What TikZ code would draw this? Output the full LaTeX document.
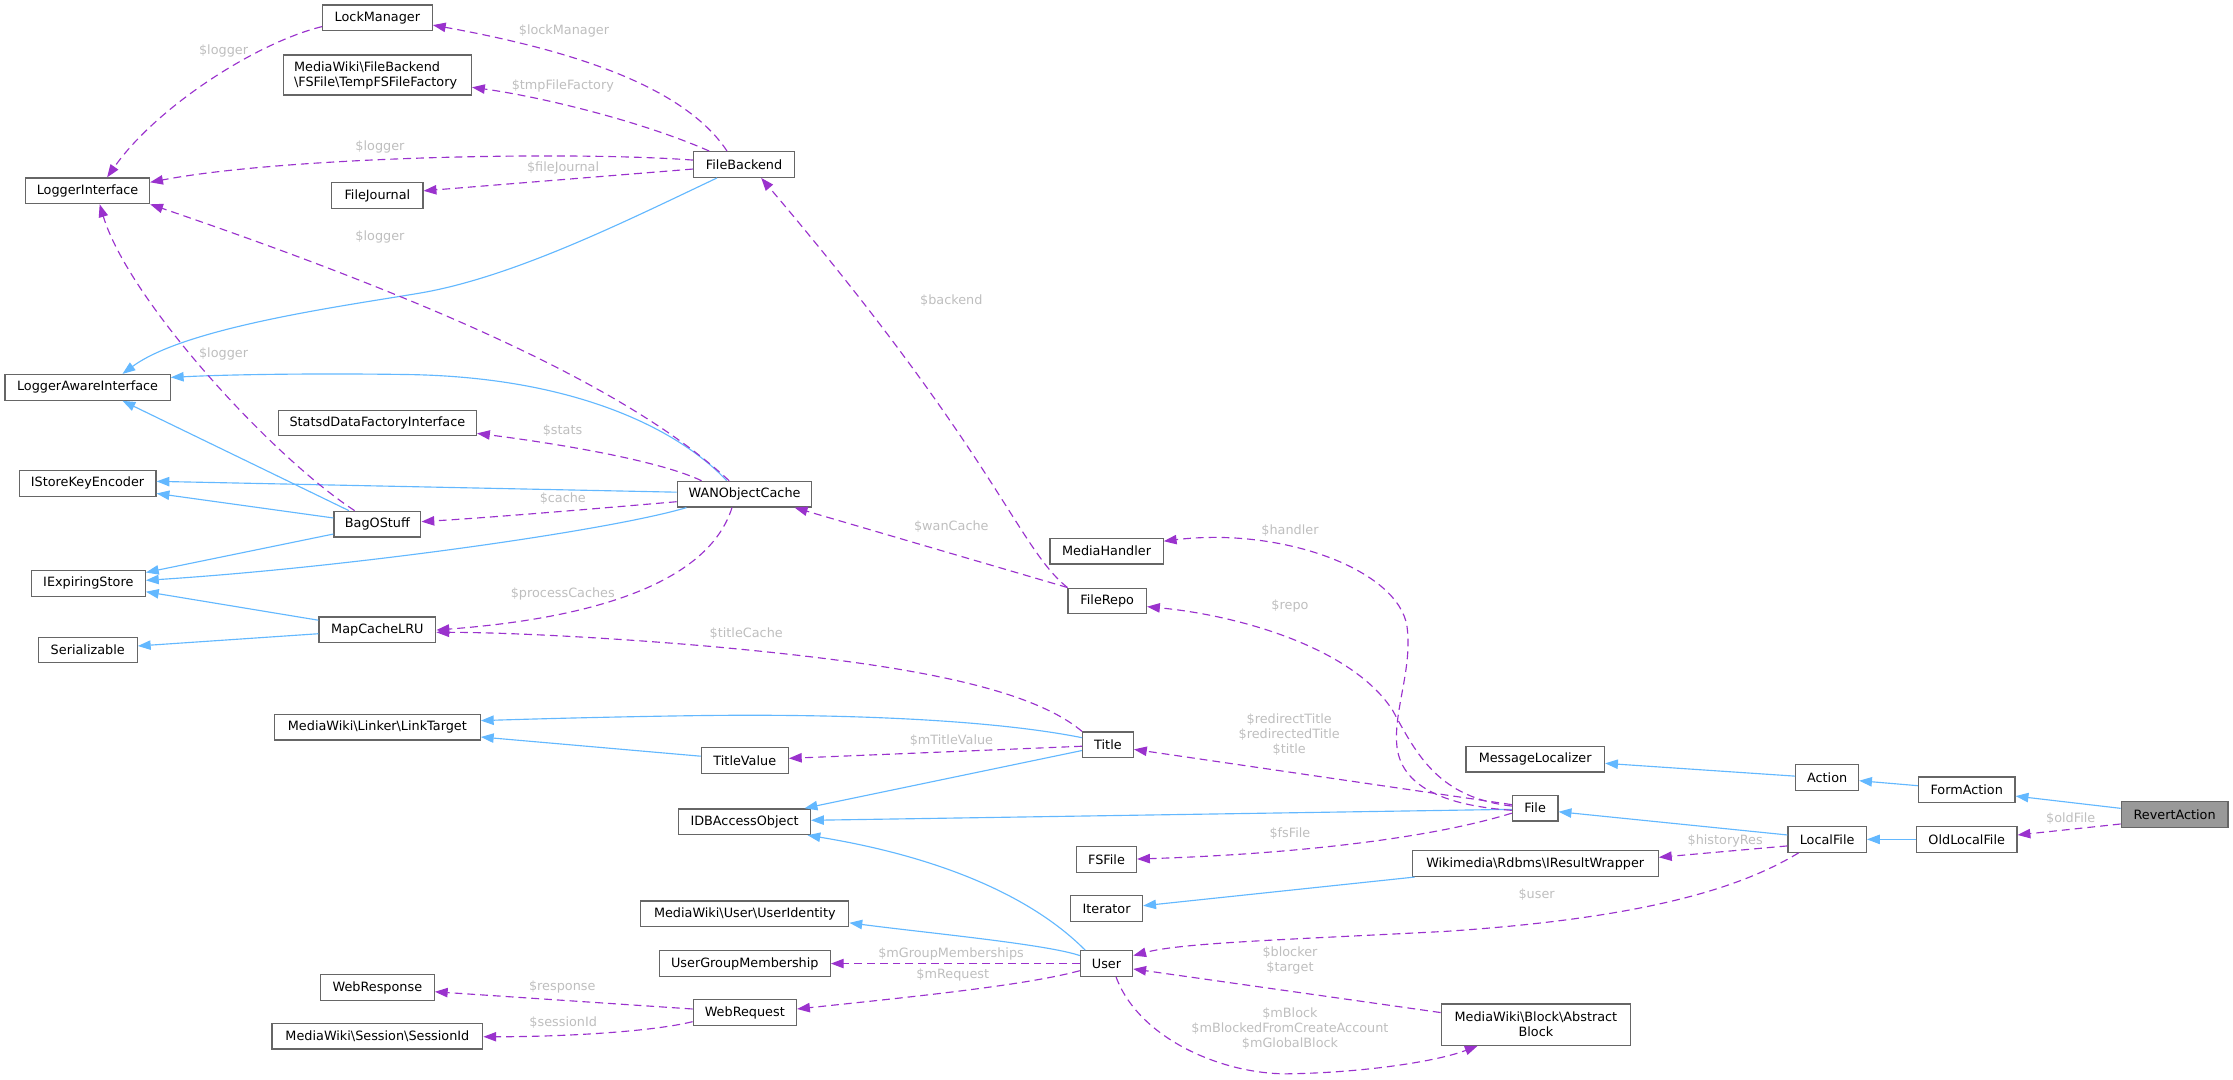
\documentclass[tikz,border=0pt]{standalone}
\usepackage{fontspec}
\setmainfont{DejaVu Sans}
\usetikzlibrary{arrows.meta}
\definecolor{inhc}{HTML}{63B8FF}
\definecolor{usec}{HTML}{9A32CD}
\definecolor{boxc}{HTML}{666666}
\definecolor{labc}{HTML}{BEBEBE}
\definecolor{revc}{HTML}{999999}
\newcommand\dgfont{\fontsize{9}{10.5}\selectfont}
\tikzset{
  box/.style={draw=boxc, line width=0.9pt, fill=white, minimum height=18pt, inner sep=0pt, font=\dgfont, text=black},
  lbl/.style={text=labc, font=\dgfont, inner sep=0pt, align=center},
  inh/.style={draw=inhc, line width=0.8pt, -{Triangle[length=9pt,width=6.6pt]}},
  usedep/.style={draw=usec, line width=0.8pt, dash pattern=on 5.5pt off 3.5pt, -{Triangle[length=9pt,width=6.6pt]}}
}
\begin{document}
\begin{tikzpicture}[x=1pt,y=-1pt]
\useasboundingbox (0,0) rectangle (1568,758);
% nodes
\node[box, minimum width=77pt] (lockm) at (265,12.5) {LockManager};
\node[box, minimum width=132pt, minimum height=28pt, text width=117pt, align=left, inner xsep=7.5pt] (tempfs) at (265,52.7) {MediaWiki\textbackslash FileBackend\\\textbackslash FSFile\textbackslash TempFSFileFactory};
\node[box, minimum width=71pt] (fback) at (522.5,115.5) {FileBackend};
\node[box, minimum width=87pt] (logint) at (61.5,134) {LoggerInterface};
\node[box, minimum width=64pt] (fjour) at (265,137.3) {FileJournal};
\node[box, minimum width=116pt] (lawi) at (61.5,272) {LoggerAwareInterface};
\node[box, minimum width=139pt] (statsd) at (265,297) {StatsdDataFactoryInterface};
\node[box, minimum width=96pt] (iske) at (61.5,339.4) {IStoreKeyEncoder};
\node[box, minimum width=94.5pt] (wan) at (522.8,347) {WANObjectCache};
\node[box, minimum width=61pt] (bag) at (265,368) {BagOStuff};
\node[box, minimum width=80pt] (ies) at (62,409.6) {IExpiringStore};
\node[box, minimum width=82pt] (mapc) at (265,442.3) {MapCacheLRU};
\node[box, minimum width=69.5pt] (ser) at (61.6,456.4) {Serializable};
\node[box, minimum width=79.5pt] (mediah) at (777,387) {MediaHandler};
\node[box, minimum width=55pt] (frepo) at (777.5,422) {FileRepo};
\node[box, minimum width=144.4pt] (linkt) at (265,510.6) {MediaWiki\textbackslash Linker\textbackslash LinkTarget};
\node[box, minimum width=35.6pt] (title) at (778,523) {Title};
\node[box, minimum width=61pt] (tval) at (523,534) {TitleValue};
\node[box, minimum width=92.5pt] (idba) at (522.8,577) {IDBAccessObject};
\node[box, minimum width=97.3pt] (msgl) at (1078,533) {MessageLocalizer};
\node[box, minimum width=44pt] (action) at (1283,546) {Action};
\node[box, minimum width=67.8pt] (formact) at (1381,554.6) {FormAction};
\node[box, minimum width=75pt, fill=revc] (revert) at (1527,572) {RevertAction};
\node[box, minimum width=32pt] (file) at (1078,567.5) {File};
\node[box, minimum width=55pt] (localf) at (1283,589.4) {LocalFile};
\node[box, minimum width=70.5pt] (oldlf) at (1381,589.4) {OldLocalFile};
\node[box, minimum width=42pt] (fsfile) at (777,603.5) {FSFile};
\node[box, minimum width=172.8pt] (iresw) at (1078,606.4) {Wikimedia\textbackslash Rdbms\textbackslash IResultWrapper};
\node[box, minimum width=50.6pt] (iter) at (777,638) {Iterator};
\node[box, minimum width=146pt] (uident) at (523,641.7) {MediaWiki\textbackslash User\textbackslash UserIdentity};
\node[box, minimum width=120pt] (ugm) at (523,676.6) {UserGroupMembership};
\node[box, minimum width=36.6pt] (user) at (777,676.6) {User};
\node[box, minimum width=79.8pt] (wresp) at (265,693.4) {WebResponse};
\node[box, minimum width=72.5pt] (wreq) at (523,711) {WebRequest};
\node[box, minimum width=148pt] (sessid) at (265,727.5) {MediaWiki\textbackslash Session\textbackslash SessionId};
\node[box, minimum width=133pt, minimum height=29pt, align=center] (ablock) at (1078.5,719.4) {MediaWiki\textbackslash Block\textbackslash Abstract\\Block};
% labels
\node[lbl] (l1) at (396,21.5) {\$lockManager};
\node[lbl] (l2) at (395.2,60.4) {\$tmpFileFactory};
\node[lbl] (l3) at (266.8,103) {\$logger};
\node[lbl] (l4) at (395.4,118) {\$fileJournal};
\node[lbl] (l5) at (157,35.8) {\$logger};
\node[lbl] (l6) at (266.8,166.2) {\$logger};
\node[lbl] (l7) at (157,248.6) {\$logger};
\node[lbl] (l8) at (668,211) {\$backend};
\node[lbl] (l9) at (395,302) {\$stats};
\node[lbl] (l10) at (395.2,350.4) {\$cache};
\node[lbl] (l11) at (395.2,417.3) {\$processCaches};
\node[lbl] (l12) at (524,444.6) {\$titleCache};
\node[lbl] (l13) at (668,369.8) {\$wanCache};
\node[lbl] (l14) at (905.8,372.7) {\$handler};
\node[lbl] (l15) at (905.8,425.5) {\$repo};
\node[lbl] (l16) at (668.1,520.1) {\$mTitleValue};
\node[lbl] (l17) at (905.3,516) {\$redirectTitle\\\$redirectedTitle\\\$title};
\node[lbl] (l18) at (905.8,585.2) {\$fsFile};
\node[lbl] (l19) at (1211.4,590.3) {\$historyRes};
\node[lbl] (l20) at (1079,628.5) {\$user};
\node[lbl] (l21) at (1454,574.6) {\$oldFile};
\node[lbl] (l22) at (667.8,670.2) {\$mGroupMemberships};
\node[lbl] (l23) at (669,684.6) {\$mRequest};
\node[lbl] (l24) at (394.8,692.8) {\$response};
\node[lbl] (l25) at (395.5,718.1) {\$sessionId};
\node[lbl] (l26) at (905.8,674.7) {\$blocker\\\$target};
\node[lbl] (l27) at (905.8,722) {\$mBlock\\\$mBlockedFromCreateAccount\\\$mGlobalBlock};
% inheritance edges
\draw[inh] (fback.south -| 503.5,0) .. controls (440,155) and (360,195) .. (293.7,206) .. controls (240,215) and (130,230) .. (lawi.north -| 86,0);
\draw[inh] (wan.north -| 510.3,0) .. controls (480,305) and (410,265) .. (286.6,263) .. controls (220,262) and (160,263) .. (lawi.east |- 0,265);
\draw[inh] (bag.north -| 245,0) -- (lawi.south -| 86,0);
\draw[inh] (wan.west |- 0,345.6) -- (iske.east |- 0,338);
\draw[inh] (bag.west |- 0,363.7) -- (iske.east |- 0,346.5);
\draw[inh] (bag.west |- 0,375) -- (ies.east |- 0,402);
\draw[inh] (wan.south -| 482,0) .. controls (430,372) and (250,398) .. (ies.east |- 0,407.5);
\draw[inh] (mapc.west |- 0,435.5) -- (ies.east |- 0,415.5);
\draw[inh] (mapc.west |- 0,445) -- (ser.east |- 0,453.6);
\draw[inh] (title.west |- 0,518) .. controls (700,506) and (600,501) .. (489,502.5) .. controls (420,503.5) and (370,505) .. (linkt.east |- 0,506);
\draw[inh] (tval.west |- 0,531) -- (linkt.east |- 0,517.5);
\draw[inh] (title.west |- 0,527) -- (idba.north -| 565,0);
\draw[inh] (file.west |- 0,568.3) -- (idba.east |- 0,576);
\draw[inh] (user.north -| 762,0) .. controls (720,625) and (650,600) .. (idba.south -| 567,0);
\draw[inh] (user.west |- 0,671) .. controls (735,663) and (650,655) .. (uident.east |- 0,648);
\draw[inh] (iresw.south -| 993.4,0) -- (iter.east |- 0,636);
\draw[inh] (localf.west |- 0,586.3) -- (file.east |- 0,570);
\draw[inh] (action.west |- 0,545) -- (msgl.east |- 0,536);
\draw[inh] (formact.west |- 0,551.7) -- (action.east |- 0,548.2);
\draw[inh] (revert.west |- 0,567.6) -- (formact.east |- 0,559);
\draw[inh] (oldlf.west) -- (localf.east);
% usage edges
\draw[usedep] (fback.north -| 510.5,0) .. controls (480,60) and (400,35) .. (lockm.east |- 0,17.6);
\draw[usedep] (fback.north -| 498,0) .. controls (450,85) and (380,68) .. (tempfs.east |- 0,61.3);
\draw[usedep] (fback.west |- 0,112.4) .. controls (400,106) and (200,110) .. (logint.east |- 0,128);
\draw[usedep] (fback.west |- 0,118.7) -- (fjour.east |- 0,134);
\draw[usedep] (lockm.west |- 0,18.7) .. controls (180,30) and (110,75) .. (logint.north -| 75.2,0);
\draw[usedep] (wan.north -| 512,0) .. controls (450,280) and (330,220) .. (logint.south east);
\draw[usedep] (bag.north -| 249,0) .. controls (190,320) and (90,210) .. (logint.south -| 70,0);
\draw[usedep] (wan.north -| 492.6,0) .. controls (460,322) and (380,310) .. (statsd.east |- 0,304.3);
\draw[usedep] (wan.west |- 0,352.3) .. controls (420,357) and (350,363) .. (bag.east |- 0,366.3);
\draw[usedep] (wan.south -| 514,0) .. controls (505,385) and (470,430) .. (mapc.east |- 0,442.4);
\draw[usedep] (title.north west) .. controls (720,480) and (620,465) .. (500,454) .. controls (420,447) and (350,444) .. (mapc.east |- 0,444);
\draw[usedep] (title.west |- 0,524) -- (tval.east |- 0,532.5);
\draw[usedep] (frepo.north west) -- (wan.south -| 558,0);
\draw[usedep] (frepo.north west) .. controls (715,385) and (700,320) .. (fback.south -| 534.5,0);
\draw[usedep] (file.west |- 0,569) .. controls (1020,566) and (985,555) .. (981,525) .. controls (978,500) and (992,470) .. (988,440) .. controls (982,400) and (900,370) .. (mediah.east |- 0,380);
\draw[usedep] (file.west |- 0,566) .. controls (1010,560) and (995,530) .. (978,499) .. controls (950,455) and (870,432) .. (frepo.east |- 0,426);
\draw[usedep] (file.west |- 0,565) -- (title.east |- 0,526.2);
\draw[usedep] (file.west |- 0,571) .. controls (1000,590) and (900,600) .. (fsfile.east |- 0,603.2);
\draw[usedep] (localf.west |- 0,594) -- (iresw.east |- 0,602);
\draw[usedep] (localf.south -| 1263,0) .. controls (1220,625) and (1150,645) .. (1015,654) .. controls (900,660) and (830,662) .. (user.east |- 0,671);
\draw[usedep] (revert.west |- 0,578.6) -- (oldlf.east |- 0,586.3);
\draw[usedep] (user.west) -- (ugm.east);
\draw[usedep] (user.west |- 0,681.6) .. controls (720,692) and (640,700) .. (wreq.east |- 0,708.5);
\draw[usedep] (wreq.west |- 0,708.5) -- (wresp.east |- 0,696.4);
\draw[usedep] (wreq.west |- 0,717.4) .. controls (460,724) and (400,728) .. (sessid.east |- 0,728);
\draw[usedep] (ablock.west |- 0,711) -- (user.east |- 0,680.4);
\draw[usedep] (user.south -| 783.7,0) .. controls (800,730) and (860,755) .. (906,754) .. controls (960,753) and (1010,745) .. (ablock.south -| 1037.6,0);
\end{tikzpicture}
\end{document}
